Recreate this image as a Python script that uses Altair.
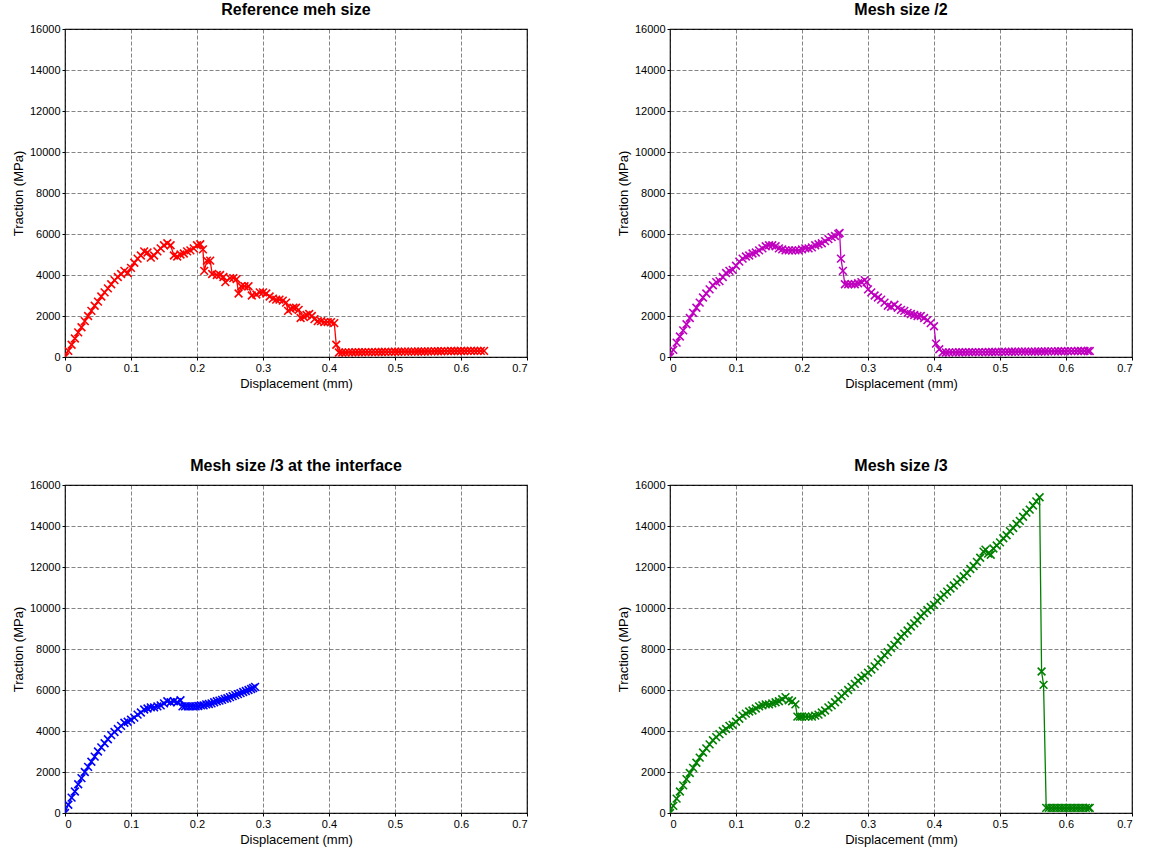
import altair as alt
import pandas as pd

# (displacement mm, traction MPa) pairs
ref_pts = [
    (0, 0), (0.005, 300), (0.01, 600), (0.015, 900), (0.02, 1200), (0.025, 1450), (0.03, 1750),
    (0.035, 2000), (0.04, 2250), (0.045, 2500), (0.05, 2700), (0.055, 2950), (0.06, 3150),
    (0.065, 3350), (0.07, 3550), (0.075, 3750), (0.08, 3900), (0.085, 4050), (0.09, 4200),
    (0.095, 4100), (0.1, 4350), (0.105, 4600), (0.11, 4800), (0.115, 4950), (0.12, 5150),
    (0.125, 5100), (0.13, 4850), (0.135, 4950), (0.14, 5150), (0.145, 5300), (0.15, 5450),
    (0.155, 5550), (0.16, 5450), (0.165, 4950), (0.17, 4900), (0.175, 5000), (0.18, 5050),
    (0.185, 5150), (0.19, 5200), (0.195, 5300), (0.2, 5450), (0.205, 5500), (0.209, 5250),
    (0.211, 4200), (0.215, 4700), (0.22, 4700), (0.223, 4050), (0.23, 4000), (0.235, 4000),
    (0.24, 3900), (0.243, 3650), (0.25, 3850), (0.255, 3850), (0.26, 3800), (0.263, 3100),
    (0.267, 3450), (0.272, 3450), (0.278, 3450), (0.283, 3000), (0.29, 3050), (0.295, 3150),
    (0.3, 3150), (0.305, 3100), (0.31, 2950), (0.315, 2850), (0.32, 2800), (0.325, 2800),
    (0.33, 2750), (0.335, 2650), (0.338, 2250), (0.342, 2350), (0.346, 2400), (0.35, 2400),
    (0.354, 2300), (0.357, 1900), (0.362, 1950), (0.366, 2050), (0.37, 2100), (0.374, 2000),
    (0.378, 1850), (0.383, 1750), (0.388, 1750), (0.393, 1700), (0.398, 1700), (0.403, 1700),
    (0.408, 1650), (0.411, 600), (0.415, 220), (0.42, 220), (0.425, 220), (0.43, 225),
    (0.435, 225), (0.44, 230), (0.445, 230), (0.45, 235), (0.455, 235), (0.46, 235),
    (0.465, 240), (0.47, 240), (0.475, 245), (0.48, 245), (0.485, 250), (0.49, 250),
    (0.495, 250), (0.5, 255), (0.505, 255), (0.51, 260), (0.515, 260), (0.52, 260),
    (0.525, 265), (0.53, 265), (0.535, 270), (0.54, 270), (0.545, 270), (0.55, 275),
    (0.555, 275), (0.56, 280), (0.565, 280), (0.57, 280), (0.575, 285), (0.58, 285),
    (0.585, 290), (0.59, 290), (0.595, 290), (0.6, 295), (0.605, 295), (0.61, 300),
    (0.615, 300), (0.62, 300), (0.625, 300), (0.63, 300), (0.635, 300),
]

half_pts = [
    (0, 0), (0.005, 350), (0.01, 700), (0.015, 1000), (0.02, 1300), (0.025, 1600), (0.03, 1900),
    (0.035, 2150), (0.04, 2400), (0.045, 2650), (0.05, 2900), (0.055, 3100), (0.06, 3300),
    (0.065, 3500), (0.07, 3650), (0.075, 3700), (0.08, 3900), (0.085, 4100), (0.09, 4200),
    (0.095, 4250), (0.1, 4450), (0.105, 4650), (0.11, 4800), (0.115, 4900), (0.12, 4950),
    (0.125, 5050), (0.13, 5100), (0.135, 5200), (0.14, 5300), (0.145, 5400), (0.15, 5450),
    (0.155, 5450), (0.16, 5400), (0.165, 5300), (0.17, 5250), (0.175, 5200), (0.18, 5200),
    (0.185, 5200), (0.19, 5200), (0.195, 5200), (0.2, 5250), (0.205, 5300), (0.21, 5300),
    (0.215, 5350), (0.22, 5450), (0.225, 5500), (0.23, 5550), (0.235, 5650), (0.24, 5750),
    (0.245, 5850), (0.25, 5900), (0.255, 6000), (0.257, 6050), (0.259, 4800), (0.262, 4200),
    (0.265, 3550), (0.27, 3550), (0.275, 3550), (0.28, 3550), (0.285, 3600), (0.29, 3650),
    (0.295, 3750), (0.298, 3650), (0.3, 3300), (0.305, 3150), (0.31, 3000), (0.315, 2900),
    (0.32, 2800), (0.325, 2650), (0.33, 2500), (0.335, 2450), (0.34, 2550), (0.345, 2400),
    (0.35, 2300), (0.355, 2250), (0.36, 2150), (0.365, 2100), (0.37, 2050), (0.375, 2000),
    (0.38, 2000), (0.385, 1900), (0.39, 1800), (0.395, 1650), (0.4, 1500), (0.403, 650),
    (0.408, 380), (0.413, 220), (0.418, 220), (0.423, 225), (0.428, 225), (0.433, 225),
    (0.438, 230), (0.443, 230), (0.448, 230), (0.453, 235), (0.458, 235), (0.463, 235),
    (0.468, 240), (0.473, 240), (0.478, 240), (0.483, 245), (0.488, 245), (0.493, 245),
    (0.498, 250), (0.503, 250), (0.508, 250), (0.513, 255), (0.518, 255), (0.523, 255),
    (0.528, 260), (0.533, 260), (0.538, 260), (0.543, 265), (0.548, 265), (0.553, 265),
    (0.558, 270), (0.563, 270), (0.568, 270), (0.573, 275), (0.578, 275), (0.583, 275),
    (0.588, 280), (0.593, 280), (0.598, 280), (0.603, 285), (0.608, 285), (0.613, 285),
    (0.618, 290), (0.623, 290), (0.628, 290), (0.633, 290), (0.636, 290),
]

iface_pts = [
    (0, 0), (0.005, 400), (0.01, 750), (0.015, 1050), (0.02, 1400), (0.025, 1700), (0.03, 2000),
    (0.035, 2250), (0.04, 2500), (0.045, 2750), (0.05, 3000), (0.055, 3200), (0.06, 3400),
    (0.065, 3600), (0.07, 3800), (0.075, 3950), (0.08, 4100), (0.085, 4250), (0.09, 4400),
    (0.095, 4450), (0.1, 4550), (0.105, 4650), (0.11, 4800), (0.115, 4900), (0.12, 5050),
    (0.125, 5100), (0.13, 5150), (0.135, 5150), (0.14, 5200), (0.145, 5250), (0.15, 5350),
    (0.155, 5450), (0.16, 5400), (0.165, 5450), (0.17, 5400), (0.175, 5500), (0.178, 5200),
    (0.182, 5200), (0.186, 5200), (0.19, 5200), (0.194, 5200), (0.198, 5200), (0.202, 5220),
    (0.206, 5250), (0.21, 5250), (0.214, 5300), (0.218, 5320), (0.222, 5350), (0.226, 5400),
    (0.23, 5450), (0.234, 5480), (0.238, 5520), (0.242, 5570), (0.246, 5600), (0.25, 5650),
    (0.254, 5700), (0.258, 5750), (0.262, 5800), (0.266, 5850), (0.27, 5900), (0.274, 5950),
    (0.278, 6000), (0.282, 6050), (0.285, 6100), (0.288, 6150),
]

fine_pts = [
    (0, 0), (0.005, 350), (0.01, 700), (0.015, 1050), (0.02, 1350), (0.025, 1650), (0.03, 1950),
    (0.035, 2200), (0.04, 2450), (0.045, 2700), (0.05, 2950), (0.055, 3150), (0.06, 3350),
    (0.065, 3550), (0.07, 3700), (0.075, 3850), (0.08, 4000), (0.085, 4100), (0.09, 4250),
    (0.095, 4300), (0.1, 4450), (0.105, 4600), (0.11, 4750), (0.115, 4850), (0.12, 4950),
    (0.125, 5000), (0.13, 5100), (0.135, 5200), (0.14, 5250), (0.145, 5300), (0.15, 5300),
    (0.155, 5350), (0.16, 5400), (0.165, 5450), (0.17, 5550), (0.175, 5650), (0.18, 5500),
    (0.185, 5450), (0.19, 5300), (0.193, 4700), (0.197, 4700), (0.2, 4700), (0.205, 4700),
    (0.21, 4700), (0.215, 4700), (0.22, 4750), (0.225, 4800), (0.23, 4900), (0.235, 5000),
    (0.24, 5150), (0.245, 5250), (0.25, 5400), (0.255, 5550), (0.26, 5700), (0.265, 5850),
    (0.27, 6000), (0.275, 6150), (0.28, 6300), (0.285, 6450), (0.29, 6600), (0.295, 6700),
    (0.3, 6850), (0.305, 7000), (0.31, 7150), (0.315, 7350), (0.32, 7500), (0.325, 7700),
    (0.33, 7850), (0.335, 8050), (0.34, 8200), (0.345, 8400), (0.35, 8600), (0.355, 8750),
    (0.36, 8900), (0.365, 9100), (0.37, 9250), (0.375, 9400), (0.38, 9600), (0.385, 9750),
    (0.39, 9900), (0.395, 10050), (0.4, 10150), (0.405, 10350), (0.41, 10500), (0.415, 10650),
    (0.42, 10800), (0.425, 10950), (0.43, 11100), (0.435, 11250), (0.44, 11400), (0.445, 11550),
    (0.45, 11700), (0.455, 11900), (0.46, 12050), (0.465, 12250), (0.47, 12450), (0.475, 12750),
    (0.478, 12850), (0.482, 12650), (0.486, 12600), (0.49, 12900), (0.495, 13050), (0.5, 13200),
    (0.505, 13400), (0.51, 13550), (0.515, 13750), (0.52, 13900), (0.525, 14100), (0.53, 14250),
    (0.535, 14450), (0.54, 14650), (0.545, 14800), (0.55, 15000), (0.555, 15200), (0.56, 15400),
    (0.563, 6900), (0.566, 6250), (0.57, 250), (0.574, 250), (0.578, 250), (0.582, 250),
    (0.586, 250), (0.59, 250), (0.594, 250), (0.598, 250), (0.602, 250), (0.606, 250),
    (0.61, 250), (0.614, 250), (0.618, 250), (0.622, 250), (0.626, 250), (0.63, 250),
    (0.634, 250), (0.636, 250),
]

titles = ["Reference meh size", "Mesh size /2", "Mesh size /3 at the interface", "Mesh size /3"]
colors = ["#ff0000", "#bf00bf", "#0000ff", "#008000"]
x_ticks = [0, 0.1, 0.2, 0.3, 0.4, 0.5, 0.6, 0.7]
y_ticks = [0, 2000, 4000, 6000, 8000, 10000, 12000, 14000, 16000]

X_SHAPE = "M-1,-1L1,1M-1,1L1,-1"
FONT = "Liberation Sans"


def panel(pts, color, title):
    df = pd.DataFrame(pts, columns=["d", "t"])
    df["i"] = range(len(df))
    base = alt.Chart(df).encode(
        x=alt.X("d:Q", scale=alt.Scale(domain=[0, 0.7], nice=False, zero=False),
                axis=alt.Axis(title="Displacement (mm)", values=x_ticks, format="~g")),
        y=alt.Y("t:Q", scale=alt.Scale(domain=[0, 16000], nice=False),
                axis=alt.Axis(title="Traction (MPa)", values=y_ticks, format="d")),
        order=alt.Order("i:Q"),
    )
    line = base.mark_line(color=color, strokeWidth=1.3, clip=True)
    pts_m = base.mark_point(shape=X_SHAPE, color=color, size=60, strokeWidth=1.6,
                            filled=False, opacity=1, clip=True)
    return (line + pts_m).properties(
        width=462, height=328,
        title=alt.Title(title, fontSize=16, fontWeight="bold", font=FONT, color="black", offset=5),
    )


charts = [panel(p, c, t) for p, c, t in zip([ref_pts, half_pts, iface_pts, fine_pts], colors, titles)]

chart = alt.vconcat(
    alt.hconcat(charts[0], charts[1], spacing=87),
    alt.hconcat(charts[2], charts[3], spacing=87),
    spacing=66,
).properties(
    padding={"left": 11, "top": 1, "right": 5, "bottom": 5}
).configure_view(
    stroke="black", strokeWidth=1.2
).configure_axis(
    domain=False,
    grid=True,
    gridColor="#333333",
    gridOpacity=0.6,
    gridDash=[4, 2],
    gridWidth=1,
    ticks=True,
    tickSize=3,
    tickColor="black",
    labelFont=FONT,
    labelFontSize=11,
    labelColor="black",
    titleFont=FONT,
    titleFontSize=13,
    titleFontWeight="normal",
    titleColor="black",
    labelPadding=2,
    titlePadding=4,
)

chart.save("out.html", embed_options={"renderer": "svg", "actions": False})
